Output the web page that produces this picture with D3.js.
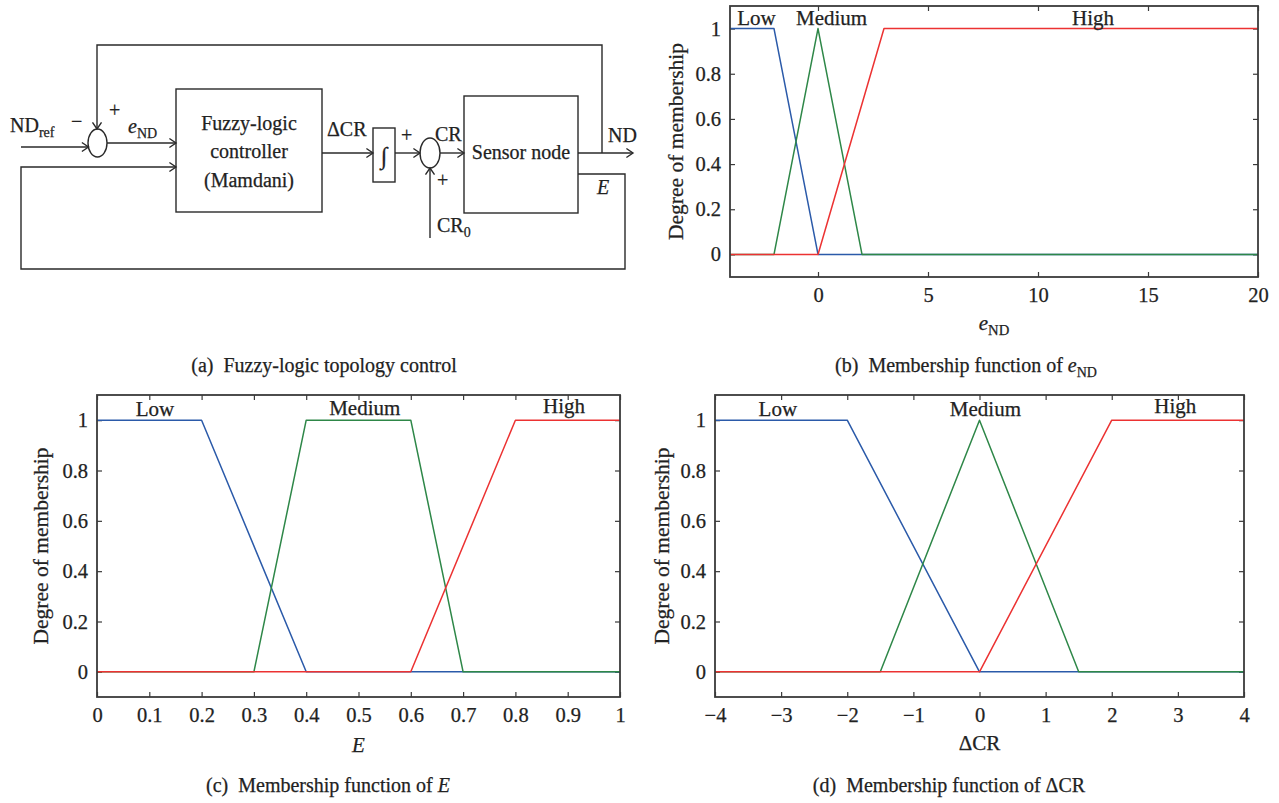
<!DOCTYPE html>
<html>
<head>
<meta charset="utf-8">
<script src="https://cdn.jsdelivr.net/npm/d3@7"></script>
<style>
  html, body { margin: 0; padding: 0; background: #fff; }
  svg { display: block; }
  text { font-family: "Liberation Serif", "Times New Roman", "DejaVu Serif", serif; fill: #222;
         stroke: #222; stroke-width: 0.25px; }
</style>
</head>
<body>
<svg id="fig" width="1279" height="803"></svg>
<script>
// ---- fuzzy sets: breakpoints [input value, degree of membership] ----
const setNames = ["Low", "Medium", "High"];
const degreeTicks = [0, 0.2, 0.4, 0.6, 0.8, 1];

// e_ND (node-degree error)
const eNdLow    = [[-4, 1], [-2, 1], [0, 0], [20, 0]];
const eNdMedium = [[-4, 0], [-2, 0], [0, 1], [2, 0], [20, 0]];
const eNdHigh   = [[-4, 0], [0, 0], [3, 1], [20, 1]];
const eNdTicks  = [0, 5, 10, 15, 20];

// E (residual energy)
const eLow    = [[0, 1], [0.2, 1], [0.4, 0], [1, 0]];
const eMedium = [[0, 0], [0.3, 0], [0.4, 1], [0.6, 1], [0.7, 0], [1, 0]];
const eHigh   = [[0, 0], [0.6, 0], [0.8, 1], [1, 1]];
const eTicks  = [0, 0.1, 0.2, 0.3, 0.4, 0.5, 0.6, 0.7, 0.8, 0.9, 1];

// ΔCR (change of communication range)
const dcrLow    = [[-4, 1], [-2, 1], [0, 0], [4, 0]];
const dcrMedium = [[-4, 0], [-1.5, 0], [0, 1], [1.5, 0], [4, 0]];
const dcrHigh   = [[-4, 0], [0, 0], [2, 1], [4, 1]];
const dcrTicks  = [-4, -3, -2, -1, 0, 1, 2, 3, 4];

// ---- styling ----
const setColors = ["#2b5aa9", "#2e8748", "#ec3232"];
const ink = "#2a2a2a";
const axisInk = "#3a3a3a";
const FS = 20;        // diagram text and captions
const TICK_FS = 20.5; // tick labels
const LABEL_FS = 21;  // set names and axis titles
const YT_FS = 21.5;   // "Degree of membership"

const svg = d3.select("#fig");

// text with optional italic base and subscript
function richText(g, x, y, parts, anchor, size) {
  const fs = size || FS;
  const t = g.append("text").attr("x", x).attr("y", y)
    .attr("font-size", fs).attr("text-anchor", anchor || "start");
  parts.forEach(p => {
    const ts = t.append("tspan").text(p.t);
    if (p.i) ts.attr("font-style", "italic");
    if (p.sub) ts.attr("font-size", fs * 0.7).attr("dy", 5);
  });
  return t;
}

// ---- membership-function panels ----
const panels = [
  { left: 730, top: 6, right: 1258, bottom: 277, domain: [-4, 20], ticks: eNdTicks,
    fmt: d => d3.format("d")(d), sets: [eNdLow, eNdMedium, eNdHigh],
    labelAt: [[-2.8, 1.015], [0.62, 1.015], [12.5, 1.015]],
    yTitleX: 683,
    xTitle: [{ t: "e", i: true }, { t: "ND", sub: true }], xTitleY: 330,
    caption: [{ t: "(b)\u2002Membership function of " }, { t: "e", i: true }, { t: "ND", sub: true }],
    capX: 966, capY: 372 },
  { left: 97, top: 395, right: 620, bottom: 697, domain: [0, 1], ticks: eTicks,
    fmt: d => String(+d.toFixed(1)), sets: [eLow, eMedium, eHigh],
    labelAt: [[0.111, 1.018], [0.512, 1.02], [0.893, 1.03]],
    yTitleX: 48,
    xTitle: [{ t: "E", i: true }], xTitleY: 752,
    caption: [{ t: "(c)\u2002Membership function of " }, { t: "E", i: true }],
    capX: 328, capY: 792 },
  { left: 715, top: 395, right: 1244, bottom: 697, domain: [-4, 4], ticks: dcrTicks,
    fmt: d => d3.format("d")(d), sets: [dcrLow, dcrMedium, dcrHigh],
    labelAt: [[-3.05, 1.016], [0.09, 1.016], [2.96, 1.03]],
    yTitleX: 669,
    xTitle: [{ t: "\u0394CR" }], xTitleY: 750,
    caption: [{ t: "(d)\u2002Membership function of \u0394CR" }],
    capX: 949, capY: 792 }
];

panels.forEach(p => {
  const x = d3.scaleLinear().domain(p.domain).range([p.left, p.right]);
  const y = d3.scaleLinear().domain([-0.1, 1.1]).range([p.bottom, p.top]);
  const g = svg.append("g");

  const styleAxis = (sel) => {
    sel.select(".domain").remove();
    sel.selectAll(".tick line").attr("stroke", axisInk).attr("stroke-width", 1.2);
    sel.selectAll(".tick text").attr("font-size", TICK_FS).attr("fill", "#222")
      .attr("font-family", "\"Liberation Serif\", \"Times New Roman\", serif");
  };

  g.append("g").attr("transform", `translate(0,${p.bottom})`)
    .call(d3.axisBottom(x).tickValues(p.ticks).tickFormat(p.fmt).tickSize(-5).tickPadding(10))
    .call(styleAxis);
  g.append("g").attr("transform", `translate(0,${p.top})`)
    .call(d3.axisTop(x).tickValues(p.ticks).tickFormat("").tickSize(-5))
    .call(styleAxis);
  g.append("g").attr("transform", `translate(${p.left},0)`)
    .call(d3.axisLeft(y).tickValues(degreeTicks).tickFormat(d => String(+d.toFixed(1))).tickSize(-5).tickPadding(9))
    .call(styleAxis);
  g.append("g").attr("transform", `translate(${p.right},0)`)
    .call(d3.axisRight(y).tickValues(degreeTicks).tickFormat("").tickSize(-5))
    .call(styleAxis);

  const line = d3.line().x(d => x(d[0])).y(d => y(d[1]));
  p.sets.forEach((s, i) => {
    g.append("path").datum(s).attr("d", line)
      .attr("fill", "none").attr("stroke", setColors[i]).attr("stroke-width", 1.5)
      .attr("stroke-linejoin", "round");
  });

  g.append("rect").attr("x", p.left).attr("y", p.top)
    .attr("width", p.right - p.left).attr("height", p.bottom - p.top)
    .attr("fill", "none").attr("stroke", axisInk).attr("stroke-width", 1.8);

  setNames.forEach((n, i) => {
    g.append("text").attr("x", x(p.labelAt[i][0])).attr("y", y(p.labelAt[i][1]))
      .attr("text-anchor", "middle").attr("font-size", LABEL_FS).text(n);
  });

  const my = (p.top + p.bottom) / 2;
  g.append("text").attr("transform", `translate(${p.yTitleX},${my}) rotate(-90)`)
    .attr("text-anchor", "middle").attr("font-size", YT_FS).text("Degree of membership");

  richText(g, (p.left + p.right) / 2, p.xTitleY, p.xTitle, "middle", LABEL_FS);
  richText(g, p.capX, p.capY, p.caption, "middle");
});

// ---- block diagram: fuzzy-logic topology control loop ----
const bd = svg.append("g").attr("stroke", ink).attr("stroke-width", 1.4).attr("fill", "none");

function poly(pts) {
  bd.append("path").attr("d", d3.line()(pts));
}
function arrow(pts) {
  poly(pts);
  const [x2, y2] = pts[pts.length - 1];
  const [x1, y1] = pts[pts.length - 2];
  const a = Math.atan2(y2 - y1, x2 - x1), L = 8, W = 0.6;
  poly([[x2 - L * Math.cos(a - W), y2 - L * Math.sin(a - W)], [x2, y2],
        [x2 - L * Math.cos(a + W), y2 - L * Math.sin(a + W)]]);
}

// blocks
bd.append("rect").attr("x", 176).attr("y", 89).attr("width", 146).attr("height", 123);
bd.append("rect").attr("x", 464).attr("y", 96).attr("width", 114).attr("height", 117);
bd.append("rect").attr("x", 373).attr("y", 128).attr("width", 22).attr("height", 54);
// summing junctions
bd.append("ellipse").attr("cx", 97.5).attr("cy", 143).attr("rx", 9.5).attr("ry", 14);
bd.append("ellipse").attr("cx", 430).attr("cy", 153).attr("rx", 10).attr("ry", 15);

// signal paths
arrow([[21, 147], [88.5, 147]]);                       // ND_ref in
arrow([[107, 143], [176, 143]]);                       // e_ND
arrow([[602, 153], [602, 45], [97, 45], [97, 129]]);  // ND feedback
arrow([[322, 153], [373, 153]]);                       // ΔCR
arrow([[395, 153], [420, 153]]);                       // integrated
arrow([[440, 153], [464, 153]]);                       // CR
arrow([[578, 153], [633, 153]]);                       // ND out
arrow([[430, 238], [430, 168]]);                       // CR0
arrow([[578, 174], [625, 174], [625, 269], [21, 269], [21, 167], [176, 167]]); // E feedback

const bt = svg.append("g");
richText(bt, 10, 132, [{ t: "ND" }, { t: "ref", sub: true }]);
richText(bt, 71, 128, [{ t: "\u2212" }]);
richText(bt, 109, 117, [{ t: "+" }]);
richText(bt, 128, 133, [{ t: "e", i: true }, { t: "ND", sub: true }]);
richText(bt, 249, 130, [{ t: "Fuzzy-logic" }], "middle");
richText(bt, 249, 158, [{ t: "controller" }], "middle");
richText(bt, 249, 187, [{ t: "(Mamdani)" }], "middle");
richText(bt, 327, 136, [{ t: "\u0394CR" }]);
bt.append("text").attr("x", 384).attr("y", 164).attr("text-anchor", "middle")
  .attr("font-size", 24).text("\u222B");
richText(bt, 401, 142, [{ t: "+" }]);
richText(bt, 435, 141, [{ t: "CR" }]);
richText(bt, 437, 187, [{ t: "+" }]);
richText(bt, 437, 232, [{ t: "CR" }, { t: "0", sub: true }]);
richText(bt, 521, 159, [{ t: "Sensor node" }], "middle");
richText(bt, 608, 142, [{ t: "ND" }]);
richText(bt, 597, 194, [{ t: "E", i: true }]);
richText(bt, 324, 372, [{ t: "(a)\u2002Fuzzy-logic topology control" }], "middle");
</script>
</body>
</html>
